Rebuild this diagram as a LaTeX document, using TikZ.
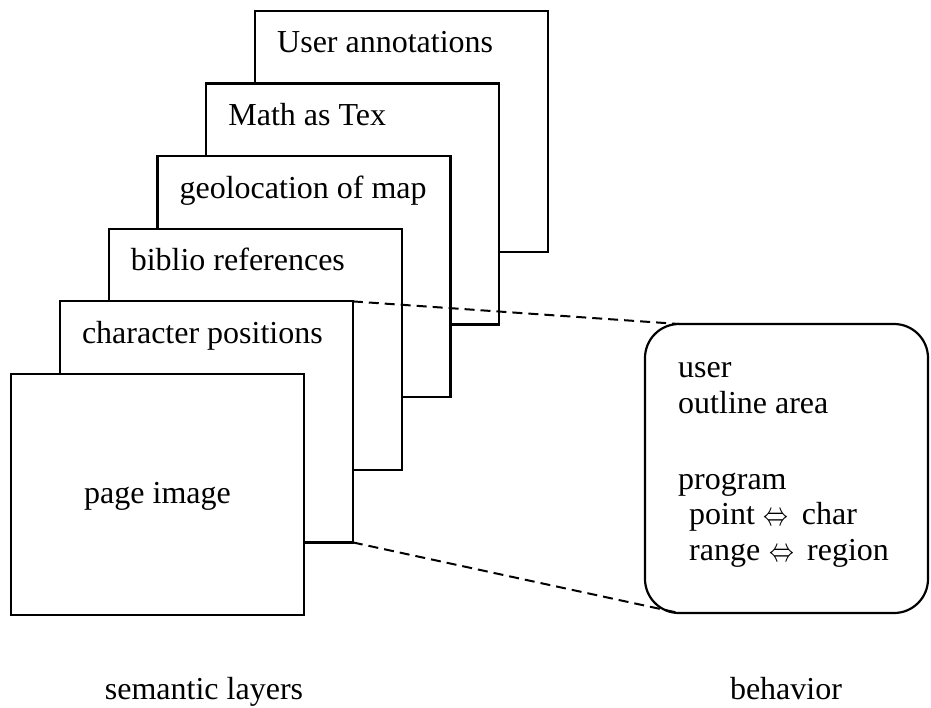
\documentclass[tikz,border=0pt]{standalone}
\usepackage{graphicx}
\usepackage{fontspec}
\setmainfont{Liberation Serif}
\newcommand{\dblarrow}{\hspace{9pt}\raisebox{-1pt}{\scalebox{1}[1.35]{\fontsize{25}{25}\selectfont$\Leftrightarrow$}}\hspace{13pt}}
\begin{document}
\begin{tikzpicture}[x=1pt,y=-1pt,
  layer/.style={draw, fill=white, line width=2.2pt, minimum width=293pt,
    minimum height=241pt, anchor=north west, inner sep=0pt, outer sep=0pt},
  lbl/.style={anchor=base west, inner sep=0pt, font=\fontsize{32}{36}\selectfont},
  captext/.style={anchor=base, inner sep=0pt, font=\fontsize{32}{36}\selectfont},
  behbox/.style={draw, fill=white, line width=2.2pt, rounded corners=34pt,
    minimum width=283pt, minimum height=289pt, anchor=north west,
    inner sep=0pt, outer sep=0pt},
  conn/.style={line width=2pt, dash pattern=on 10pt off 6pt}]
\useasboundingbox (0,0) rectangle (931,708);

% stacked layers, drawn from back to front
\node[layer] (user) at (255,11) {};
\node[lbl] (userlbl) at ([xshift=22pt,yshift=-42pt]user.north west) {User annotations};
\node[layer] (math) at (206.2,83.6) {};
\node[lbl] (mathlbl) at ([xshift=22pt,yshift=-42pt]math.north west) {Math as Tex};
\node[layer] (geo) at (157.4,156.2) {};
\node[lbl] (geolbl) at ([xshift=22pt,yshift=-42pt]geo.north west) {geolocation of map};
\node[layer] (bib) at (108.6,228.8) {};
\node[lbl] (biblbl) at ([xshift=22pt,yshift=-42pt]bib.north west) {biblio references};
\node[layer] (char) at (59.8,301.4) {};
\node[lbl] (charlbl) at ([xshift=22pt,yshift=-42pt]char.north west) {character positions};
\node[layer] (page) at (11,374) {};
\node[captext] (pagelbl) at ([yshift=-9pt]page.center) {page image};

% behaviour panel
\node[behbox] (beh) at (645,324) {};
\node[lbl] (b1) at (678,377) {user};
\node[lbl] (b2) at (678,413) {outline area};
\node[lbl] (b3) at (678,489) {program};
\node[lbl] (b4) at (689,524) {point\dblarrow char};
\node[lbl] (b5) at (689,560) {range\dblarrow region};

% zoom lines from the character layer to the panel
\coordinate (bt) at ([xshift=34pt]beh.north west);
\coordinate (bb) at ([xshift=34pt]beh.south west);
\draw[conn] (char.north east) -- (bt);
\draw[conn] (char.south east) -- (bb);

% captions
\node[captext] (capl) at (204,699) {semantic layers};
\node[captext] (capr) at (786,699) {behavior};
\end{tikzpicture}
\end{document}
